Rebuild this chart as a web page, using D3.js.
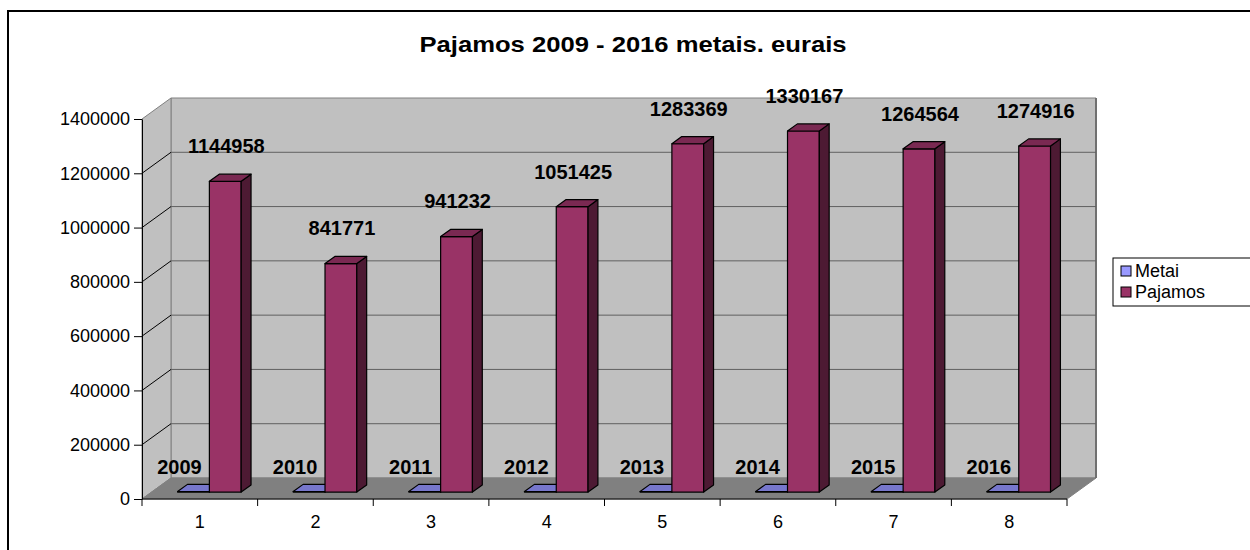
<!DOCTYPE html>
<html>
<head>
<meta charset="utf-8">
<script src="https://cdn.jsdelivr.net/npm/d3@7"></script>
<style>
  body { margin: 0; background: #fff; }
  text { font-family: Arial, "Liberation Sans", sans-serif; }
</style>
</head>
<body>
<div id="chart"></div>
<script>
// data
const categories = ["1", "2", "3", "4", "5", "6", "7", "8"];
const metai = [2009, 2010, 2011, 2012, 2013, 2014, 2015, 2016];
const pajamos = [1144958, 841771, 941232, 1051425, 1283369, 1330167, 1264564, 1274916];
const yTicks = [0, 200000, 400000, 600000, 800000, 1000000, 1200000, 1400000];
const seriesNames = ["Metai", "Pajamos"];

const W = 1250, H = 550;
const DX = 29, DY = 21;          // depth of the 3D box
const d0 = 0.33, d1 = 0.67;      // where the bars sit in the depth

const svg = d3.select("#chart").append("svg")
    .attr("width", W).attr("height", H);

// outer chart frame (runs off the picture on right/bottom)
svg.append("rect")
    .attr("x", 8).attr("y", 11).attr("width", 1400).attr("height", 700)
    .attr("fill", "#fff").attr("stroke", "#000").attr("stroke-width", 2);

svg.append("text")
    .attr("x", 633).attr("y", 52)
    .attr("text-anchor", "middle")
    .attr("font-size", 22).attr("font-weight", "bold")
    .attr("textLength", 427).attr("lengthAdjust", "spacingAndGlyphs")
    .text("Pajamos 2009 - 2016 metais. eurais");

const x0 = d3.scaleBand().domain(categories).range([142, 1067])
    .paddingInner(0.45).paddingOuter(0.225);
const x1 = d3.scaleBand().domain(seriesNames).range([0, x0.bandwidth()]);
const y = d3.scaleLinear().domain([0, 1400000]).range([499, 119]);

const xL = 142, xR = 1067;
const P = (px, v, d) => [px + DX * d, y(v) - DY * d];
const poly = pts => pts.map(p => p.join(",")).join(" ");

// walls and floor
const yMax = 1400000;
svg.append("polygon")   // back wall
    .attr("points", poly([P(xL, 0, 1), P(xR, 0, 1), P(xR, yMax, 1), P(xL, yMax, 1)]))
    .attr("fill", "#c0c0c0").attr("stroke", "#808080");
svg.append("polygon")   // side wall
    .attr("points", poly([P(xL, 0, 0), P(xL, 0, 1), P(xL, yMax, 1), P(xL, yMax, 0)]))
    .attr("fill", "#c0c0c0").attr("stroke", "#808080");
svg.append("polygon")   // floor
    .attr("points", poly([P(xL, 0, 0), P(xR, 0, 0), P(xR, 0, 1), P(xL, 0, 1)]))
    .attr("fill", "#808080").attr("stroke", "#808080");
svg.append("line")
    .attr("x1", P(xR, 0, 1)[0]).attr("y1", P(xR, 0, 1)[1])
    .attr("x2", P(xR, yMax, 1)[0]).attr("y2", P(xR, yMax, 1)[1])
    .attr("stroke", "#707070").attr("stroke-width", 2);

// gridlines
const grid = svg.append("g");
yTicks.filter(t => t > 0 && t < yMax).forEach(t => {
    grid.append("line")
        .attr("x1", P(xL, t, 0)[0]).attr("y1", P(xL, t, 0)[1])
        .attr("x2", P(xL, t, 1)[0]).attr("y2", P(xL, t, 1)[1])
        .attr("stroke", "#000");
    grid.append("line")
        .attr("x1", P(xL, t, 1)[0]).attr("y1", P(xL, t, 1)[1])
        .attr("x2", P(xR, t, 1)[0]).attr("y2", P(xR, t, 1)[1])
        .attr("stroke", "#606060");
});

// axes
const yAxis = svg.append("g")
    .attr("transform", `translate(${xL},0)`)
    .call(d3.axisLeft(y).tickValues(yTicks).tickFormat(d3.format("d"))
        .tickSize(8).tickPadding(4).tickSizeOuter(0));
yAxis.select(".domain").attr("stroke", "#000");
yAxis.selectAll("text").attr("font-size", 18).attr("font-family", "Arial, 'Liberation Sans', sans-serif").attr("fill", "#000");

const xAxisG = svg.append("g");
xAxisG.append("line")
    .attr("x1", xL).attr("x2", xR).attr("y1", y(0)).attr("y2", y(0))
    .attr("stroke", "#000");
const step = x0.step();
d3.range(categories.length + 1).forEach(i => {
    xAxisG.append("line")
        .attr("x1", xL + i * step).attr("x2", xL + i * step)
        .attr("y1", y(0)).attr("y2", y(0) + 7)
        .attr("stroke", "#000");
});
xAxisG.selectAll("text.cat").data(categories).enter().append("text")
    .attr("class", "cat")
    .attr("x", d => x0(d) + x0.bandwidth() / 2)
    .attr("y", 528)
    .attr("text-anchor", "middle")
    .attr("font-size", 18)
    .text(d => d);

// bars
const colors = {
    Metai: { front: "#9999ff", side: "#4d4d80", top: "#7777cc" },
    Pajamos: { front: "#993366", side: "#4d1a33", top: "#7a2952" }
};
const bars = svg.append("g");
const labels = svg.append("g");

function drawBar(xb, w, v, c) {
    const g = bars.append("g").attr("stroke", "#000").attr("stroke-width", 1.2).attr("stroke-linejoin", "round");
    g.append("polygon")
        .attr("points", poly([P(xb, 0, d0), P(xb + w, 0, d0), P(xb + w, v, d0), P(xb, v, d0)]))
        .attr("fill", c.front);
    g.append("polygon")
        .attr("points", poly([P(xb + w, 0, d0), P(xb + w, 0, d1), P(xb + w, v, d1), P(xb + w, v, d0)]))
        .attr("fill", c.side);
    g.append("polygon")
        .attr("points", poly([P(xb, v, d0), P(xb + w, v, d0), P(xb + w, v, d1), P(xb, v, d1)]))
        .attr("fill", c.top);
}

categories.forEach((cat, i) => {
    const series = [metai[i], pajamos[i]];
    seriesNames.forEach((s, j) => {
        const xb = x0(cat) + x1(s);
        const w = x1.bandwidth();
        const v = series[j];
        drawBar(xb, w, v, colors[s]);
        const topBack = P(xb, v, d1)[1];
        const cx = xb + w / 2 + DX * d0;
        labels.append("text")
            .attr("x", s === "Metai" ? cx - 14 : cx + 1)
            .attr("y", s === "Metai" ? topBack - 10 : topBack - 21)
            .attr("text-anchor", "middle")
            .attr("font-size", 20).attr("font-weight", "bold")
            .text(v);
    });
});

// legend
const legend = svg.append("g").attr("transform", "translate(1113,258)");
legend.append("rect")
    .attr("width", 200).attr("height", 48)
    .attr("fill", "#fff").attr("stroke", "#000");
seriesNames.forEach((s, i) => {
    const row = legend.append("g").attr("transform", `translate(8,${13 + i * 21})`);
    row.append("rect")
        .attr("x", 0).attr("y", -5).attr("width", 10).attr("height", 10)
        .attr("fill", colors[s].front).attr("stroke", "#000");
    row.append("text")
        .attr("x", 14).attr("y", 6)
        .attr("font-size", 18)
        .text(s);
});
</script>
</body>
</html>
